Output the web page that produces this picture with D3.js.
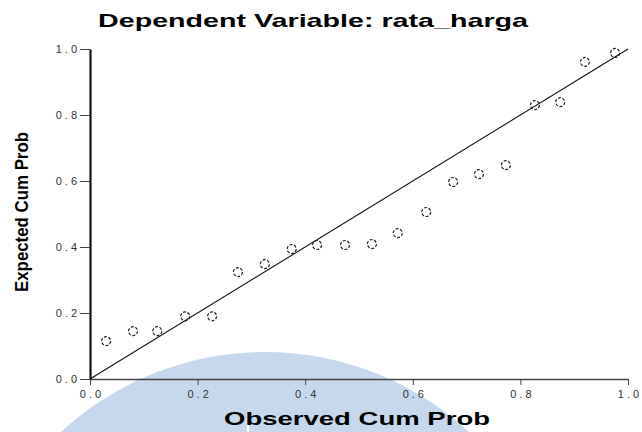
<!DOCTYPE html>
<html>
<head>
<meta charset="utf-8">
<script src="https://cdn.jsdelivr.net/npm/d3@7"></script>
<style>
  body { margin: 0; background: #fff; }
  svg { display: block; font-family: "Liberation Sans", Arial, sans-serif; }
  .tick text { font-size: 11px; fill: #333; letter-spacing: 3px; }
</style>
</head>
<body>
<div id="chart"></div>
<script>
// Observed vs expected cumulative probabilities
const observed = [0.03, 0.08, 0.125, 0.177, 0.227, 0.275, 0.325, 0.375, 0.422, 0.474,
                  0.524, 0.572, 0.625, 0.675, 0.723, 0.773, 0.827, 0.874, 0.92, 0.976];
const expected = [0.115, 0.145, 0.145, 0.19, 0.19, 0.324, 0.348, 0.394, 0.406, 0.406,
                  0.409, 0.442, 0.506, 0.597, 0.621, 0.648, 0.83, 0.839, 0.961, 0.988];
const xTicks = [0, 0.2, 0.4, 0.6, 0.8, 1.0];
const yTicks = [0, 0.2, 0.4, 0.6, 0.8, 1.0];
const refLine = [0, 1];

(() => {
    const width = 642;
    const height = 432;

    const svg = d3.select("#chart")
        .append("svg")
        .attr("width", width)
        .attr("height", height);

    // Light blue watermark behind the chart
    svg.append("circle")
        .attr("cx", 265)
        .attr("cy", 652)
        .attr("r", 300)
        .attr("fill", "#c7d8ec");
    svg.append("line")
        .attr("x1", 248).attr("x2", 248)
        .attr("y1", 424).attr("y2", 432)
        .attr("stroke", "#fff")
        .attr("stroke-width", 2);

    const x = d3.scaleLinear().domain([0, 1]).range([90, 628]);
    const y = d3.scaleLinear().domain([0, 1]).range([379, 49]);

    // x axis
    const xAxis = svg.append("g")
        .attr("transform", `translate(0, ${y(0)})`)
        .call(d3.axisBottom(x)
            .tickValues(xTicks)
            .tickFormat(d3.format(".1f"))
            .tickSize(6)
            .tickSizeOuter(0)
            .tickPadding(5));
    xAxis.select(".domain").attr("stroke", "#444").attr("stroke-width", 1.5);
    xAxis.selectAll(".tick line").attr("stroke", "#444");
    xAxis.selectAll(".tick text").attr("dx", "1.5px");

    // y axis
    const yAxis = svg.append("g")
        .attr("transform", `translate(${x(0)}, 0)`)
        .call(d3.axisLeft(y)
            .tickValues(yTicks)
            .tickFormat(d3.format(".1f"))
            .tickSize(10)
            .tickSizeOuter(0)
            .tickPadding(0));
    yAxis.select(".domain").attr("stroke", "#111").attr("stroke-width", 2.2);
    yAxis.selectAll(".tick line").attr("stroke", "#444");

    // Reference diagonal
    svg.append("line")
        .attr("x1", x(refLine[0])).attr("y1", y(refLine[0]))
        .attr("x2", x(refLine[1])).attr("y2", y(refLine[1]))
        .attr("stroke", "#111")
        .attr("stroke-width", 1.1);

    // Points
    const points = observed.map((o, i) => ({ o: o, e: expected[i] }));
    svg.append("g").selectAll("circle")
        .data(points)
        .enter()
        .append("circle")
        .attr("cx", d => x(d.o))
        .attr("cy", d => y(d.e))
        .attr("r", 4.5)
        .attr("fill", "none")
        .attr("stroke", "#222")
        .attr("stroke-width", 1.2)
        .attr("stroke-dasharray", "3,1.6");

    // Chart title
    svg.append("text")
        .text("Dependent Variable: rata_harga")
        .attr("x", 98)
        .attr("y", 27)
        .attr("textLength", 430)
        .attr("lengthAdjust", "spacingAndGlyphs")
        .style("font-size", "19px")
        .style("font-weight", "bold")
        .style("fill", "#000");

    // x axis label
    svg.append("text")
        .text("Observed Cum Prob")
        .attr("x", 224)
        .attr("y", 425)
        .attr("textLength", 266)
        .attr("lengthAdjust", "spacingAndGlyphs")
        .style("font-size", "18px")
        .style("font-weight", "bold")
        .style("fill", "#000");

    // y axis label
    svg.append("text")
        .text("Expected Cum Prob")
        .attr("transform", `translate(28, 292) rotate(-90)`)
        .attr("textLength", 160)
        .attr("lengthAdjust", "spacingAndGlyphs")
        .style("font-size", "18px")
        .style("font-weight", "bold")
        .style("fill", "#000");
})();
</script>
</body>
</html>
